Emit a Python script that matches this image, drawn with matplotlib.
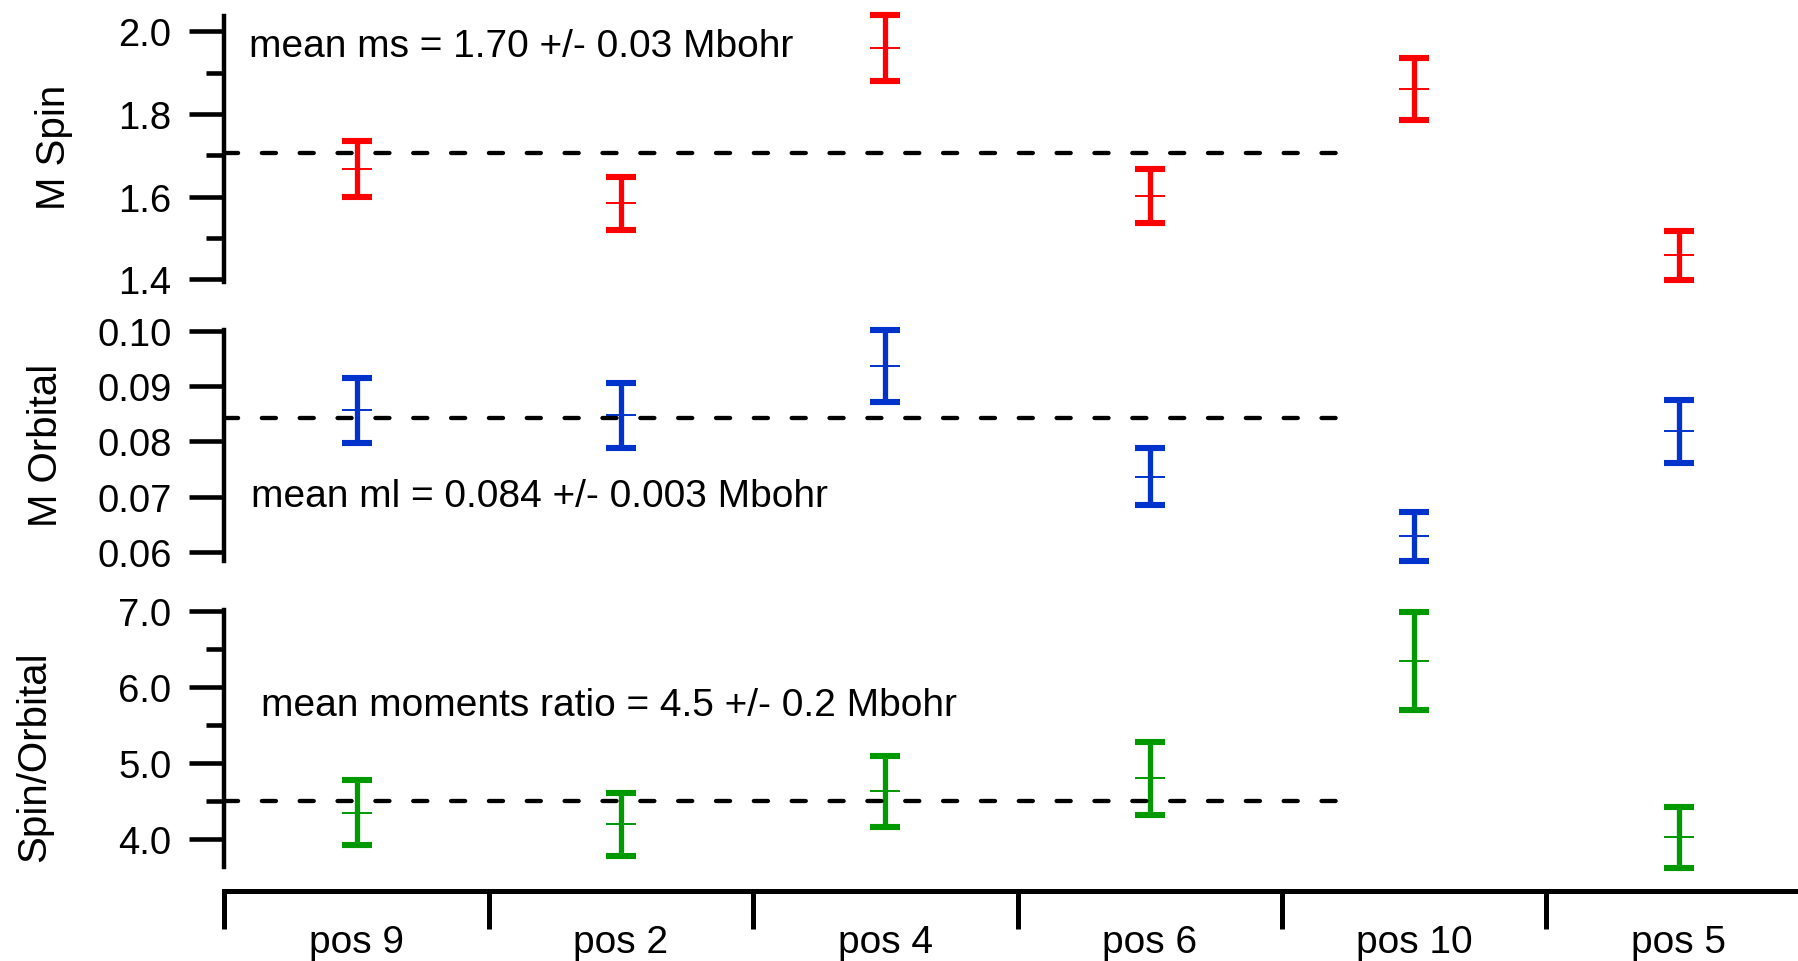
import matplotlib
matplotlib.use("Agg")
import matplotlib.pyplot as plt
from matplotlib.ticker import FixedLocator, FormatStrFormatter

plt.rcParams['font.family'] = ['Liberation Sans', 'DejaVu Sans']

# data
positions = ["pos 9", "pos 2", "pos 4", "pos 6", "pos 10", "pos 5"]

spin = [1.667, 1.584, 1.960, 1.602, 1.860, 1.458]
spin_err = [0.067, 0.064, 0.079, 0.065, 0.075, 0.059]
spin_mean = 1.705

orbital = [0.0856, 0.0847, 0.0936, 0.0736, 0.0628, 0.0818]
orbital_err = [0.0059, 0.0059, 0.0065, 0.0052, 0.0044, 0.0057]
orbital_mean = 0.0843

ratio = [4.345, 4.195, 4.63, 4.80, 6.35, 4.022]
ratio_err = [0.43, 0.415, 0.468, 0.481, 0.645, 0.40]
ratio_mean = 4.505

W, H = 1798, 962
fig = plt.figure(figsize=(W / 100, H / 100), dpi=100)


def px_axes(top, bottom, left=224.3, right=1810.7):
    # axes rectangle given in pixels measured from the top left
    return fig.add_axes([left / W, (H - bottom) / H, (right - left) / W, (bottom - top) / H])


def style_panel(ax, ylim, major, minor, fmt):
    ax.set_xlim(-0.5, 5.5)
    ax.set_ylim(*ylim)
    for s in ["top", "right", "bottom"]:
        ax.spines[s].set_visible(False)
    ax.spines["left"].set_linewidth(3.2)
    ax.set_xticks([])
    ax.yaxis.set_major_locator(FixedLocator(major))
    ax.yaxis.set_minor_locator(FixedLocator(minor))
    ax.yaxis.set_major_formatter(FormatStrFormatter(fmt))
    ax.tick_params(axis="y", which="major", length=25, width=3.3, pad=13, labelsize=27.5)
    ax.tick_params(axis="y", which="minor", length=12.8, width=3.3)
    ax.patch.set_visible(False)


def draw(ax, vals, errs, mean, color):
    x = list(range(len(vals)))
    ax.errorbar(x, vals, yerr=errs, fmt="none", ecolor=color,
                elinewidth=3.8, capsize=10.8, capthick=4.4, clip_on=False, zorder=2)
    ax.plot(x, vals, "_", color=color, ms=21.6, mew=1.4, clip_on=False, zorder=2)
    ax.plot([-0.5, 3.715], [mean, mean], color="black", lw=3.1,
            linestyle=(0, (3.27, 5.52)), dash_capstyle="round", zorder=3)


ax1 = px_axes(16.7, 283)
style_panel(ax1, (1.393, 2.038), [1.4, 1.6, 1.8, 2.0], [1.5, 1.7, 1.9], "%.1f")
draw(ax1, spin, spin_err, spin_mean, "#ff0000")
ax1.text(-0.408, 1.9395, "mean ms = 1.70 +/- 0.03 Mbohr", fontsize=28, va="baseline")

ax2 = px_axes(330.7, 561.7)
style_panel(ax2, (0.0584, 0.1002), [0.06, 0.07, 0.08, 0.09, 0.10], [], "%.2f")
draw(ax2, orbital, orbital_err, orbital_mean, "#0033cc")
ax2.text(-0.40, 0.06826, "mean ml = 0.084 +/- 0.003 Mbohr", fontsize=28, va="baseline")

ax3 = px_axes(610.7, 868.3)
style_panel(ax3, (3.627, 7.02), [4.0, 5.0, 6.0, 7.0], [4.5, 5.5, 6.5], "%.1f")
draw(ax3, ratio, ratio_err, ratio_mean, "#009900")
ax3.text(-0.36, 5.634, "mean moments ratio = 4.5 +/- 0.2 Mbohr", fontsize=28, va="baseline")

# category axis below the panels
axc = px_axes(881.7, 891.7)
axc.set_xlim(-0.5, 5.5)
for s in ["top", "right", "left"]:
    axc.spines[s].set_visible(False)
axc.spines["bottom"].set_linewidth(3.6)
axc.set_yticks([])
axc.set_xticks(range(len(positions)))
axc.set_xticklabels(positions)
axc.xaxis.set_minor_locator(FixedLocator([i - 0.5 for i in range(len(positions))]))
axc.tick_params(axis="x", which="major", length=0, pad=24, labelsize=28)
axc.tick_params(axis="x", which="minor", length=27.4, width=3.6)
axc.patch.set_visible(False)

# y labels
for txt, xb, yc in [("M Spin", 65, 147.5), ("M Orbital", 57.4, 445.8), ("Spin/Orbital", 45, 756.7)]:
    fig.text(xb / W, 1 - yc / H, txt, rotation=90, rotation_mode="anchor",
             ha="center", va="baseline", fontsize=29)

fig.savefig("out.png", dpi=100)
